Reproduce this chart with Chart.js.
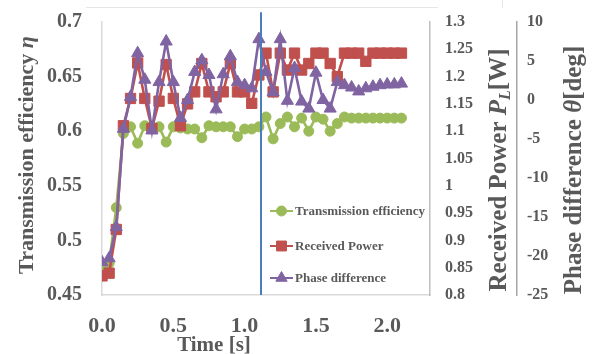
<!DOCTYPE html>
<html>
<head>
<meta charset="utf-8">
<script src="https://cdn.jsdelivr.net/npm/chart.js@4.4.1/dist/chart.umd.min.js"></script>
<style>
  html, body { margin: 0; padding: 0; background: #fff; }
  #wrap { position: relative; width: 592px; height: 354px; }
</style>
</head>
<body>
<div id="wrap"><canvas id="chart"></canvas></div>
<script>
// sample times (s)
const timeValues = [0, 0.05, 0.1, 0.15, 0.2, 0.25, 0.3, 0.35, 0.4, 0.45, 0.5,
  0.55, 0.6, 0.65, 0.7, 0.75, 0.8, 0.85, 0.9, 0.95, 1.0,
  1.05, 1.1, 1.15, 1.2, 1.25, 1.3, 1.35, 1.4, 1.45, 1.5,
  1.55, 1.6, 1.65, 1.7, 1.75, 1.8, 1.85, 1.9, 1.95, 2.0, 2.05, 2.1];

// transmission efficiency (left axis)
const efficiency = [0.475, 0.479, 0.53, 0.598, 0.604, 0.589, 0.605, 0.604, 0.604, 0.59, 0.604,
  0.603, 0.602, 0.602, 0.594, 0.605, 0.604, 0.604, 0.604, 0.595, 0.602,
  0.602, 0.604, 0.613, 0.593, 0.607, 0.613, 0.604, 0.612, 0.600, 0.613,
  0.611, 0.600, 0.607, 0.613, 0.612, 0.612, 0.612, 0.612, 0.612, 0.612, 0.612, 0.612];

// received power [W] (first right axis)
const power = [0.835, 0.84, 0.92, 1.11, 1.16, 1.225, 1.16, 1.105, 1.155, 1.222, 1.16,
  1.11, 1.15, 1.172, 1.224, 1.172, 1.163, 1.172, 1.224, 1.172, 1.172,
  1.151, 1.203, 1.243, 1.172, 1.243, 1.212, 1.243, 1.212, 1.224, 1.243,
  1.243, 1.224, 1.2, 1.243, 1.243, 1.243, 1.228, 1.243, 1.243, 1.243, 1.243, 1.243];

// phase difference [deg] (second right axis)
const phase = [-20.8, -20.3, -16.3, -3.7, 0.4, 6.0, 2.6, -3.9, 2.3, 7.5, 2.3,
  -2.3, 0.0, 3.6, 5.1, 3.2, -1.2, 3.3, 5.6, 2.3, 1.9,
  1.5, 7.8, 3.6, 1.0, 7.8, -0.1, 4.1, -0.2, -1.1, 3.5,
  0.0, -1.1, 2.3, 1.9, 1.6, 1.1, 1.5, 1.7, 1.9, 2.0, 2.0, 2.1];

// event marker (vertical line)
const markerTime = [1.115];

// tick values
const xTicks = [0, 0.5, 1.0, 1.5, 2.0];
const effTicks = [0.45, 0.5, 0.55, 0.6, 0.65, 0.7];
const powerTicks = [0.8, 0.85, 0.9, 0.95, 1, 1.05, 1.1, 1.15, 1.2, 1.25, 1.3];
const phaseTicks = [-25, -20, -15, -10, -5, 0, 5, 10];

const seriesNames = ['Transmission efficiency', 'Received Power', 'Phase difference'];
const colors = { eff: '#9BBB59', power: '#C0504D', phase: '#8064A2', marker: '#4A7EBB' };

const SERIF = "'Liberation Serif', 'Times New Roman', serif";
const GRAY = '#595959';

const pts = (ys) => timeValues.map((t, i) => ({ x: t, y: ys[i] }));

function fixTicks(list) {
  return (scale) => { scale.ticks = list.map(v => ({ value: v })); };
}

// fixed box size, no extra padding for overflowing labels
function fitWidth(w) {
  return (s) => { s.width = w; s.paddingTop = 0; s.paddingBottom = 0; };
}

// draw text made of pieces with different styles, centred at (cx, cy)
function drawRich(ctx, parts, cx, cy, rotate, size) {
  ctx.save();
  ctx.translate(cx, cy);
  if (rotate) ctx.rotate(-Math.PI / 2);
  ctx.textBaseline = 'alphabetic';
  ctx.textAlign = 'left';
  let total = 0;
  parts.forEach(p => { ctx.font = p.font; p.w = ctx.measureText(p.text).width; total += p.w; });
  let x = -total / 2;
  const base = size * 0.33;
  parts.forEach(p => {
    ctx.font = p.font;
    ctx.fillStyle = GRAY;
    ctx.fillText(p.text, x, base + (p.dy || 0));
    x += p.w;
  });
  ctx.restore();
}

const extras = {
  id: 'extras',
  afterDraw(chart) {
    const ctx = chart.ctx;
    // faint frame remnants at the top
    ctx.save();
    ctx.strokeStyle = '#e6e6e6';
    ctx.lineWidth = 1;
    ctx.beginPath();
    ctx.moveTo(86, 7.5); ctx.lineTo(438, 7.5);
    ctx.moveTo(502.5, 0); ctx.lineTo(502.5, 8);
    ctx.stroke();
    ctx.restore();

    // axis titles
    const b = (s) => `bold ${s}px ${SERIF}`;
    const bi = (s) => `italic bold ${s}px ${SERIF}`;
    drawRich(ctx, [
      { text: 'Transmission efficiency ', font: b(22) },
      { text: 'η', font: bi(22) }
    ], 26, 155, true, 22);
    drawRich(ctx, [
      { text: 'Received Power ', font: b(25) },
      { text: 'P', font: bi(25) },
      { text: 'L', font: bi(16), dy: 4 },
      { text: '[W]', font: b(25) }
    ], 498, 170, true, 25);
    drawRich(ctx, [
      { text: 'Phase difference ', font: b(25) },
      { text: 'θ', font: bi(25) },
      { text: '[deg]', font: b(25) }
    ], 573, 170, true, 25);
    drawRich(ctx, [{ text: 'Time [s]', font: b(21) }], 214, 344, false, 21);

    // legend inside plot
    const items = [
      { style: 'circle', r: 5, color: colors.eff, y: 211 },
      { style: 'rect', r: 7, color: colors.power, y: 246 },
      { style: 'triangle', r: 6.5, color: colors.phase, y: 278 }
    ];
    ctx.save();
    items.forEach((it, i) => {
      ctx.strokeStyle = it.color;
      ctx.fillStyle = it.color;
      ctx.lineWidth = 2;
      ctx.beginPath();
      ctx.moveTo(270, it.y); ctx.lineTo(293, it.y);
      ctx.stroke();
      ctx.lineWidth = 1;
      Chart.helpers.drawPoint(ctx, { pointStyle: it.style, radius: it.r, rotation: 0, borderWidth: 1 }, 281.5, it.y);
      ctx.font = `bold 13px ${SERIF}`;
      ctx.fillStyle = GRAY;
      ctx.textBaseline = 'middle';
      ctx.textAlign = 'left';
      ctx.fillText(seriesNames[i], 295, it.y + 0.5);
    });
    ctx.restore();
  }
};

const tickFont = (s) => ({ family: SERIF, size: s, weight: 'bold' });

new Chart(document.getElementById('chart'), {
  type: 'line',
  data: {
    datasets: [
      {
        label: 'marker',
        data: [{ x: markerTime[0], y: 0.45 }, { x: markerTime[0], y: 0.709 }],
        yAxisID: 'y',
        borderColor: colors.marker,
        borderWidth: 2,
        pointRadius: 0,
        clip: false,
        order: 0
      },
      {
        label: seriesNames[2],
        data: pts(phase),
        yAxisID: 'y2',
        borderColor: colors.phase,
        backgroundColor: colors.phase,
        borderWidth: 2.6,
        pointStyle: 'triangle',
        pointRadius: 7,
        pointBorderWidth: 1,
        order: 1
      },
      {
        label: seriesNames[1],
        data: pts(power),
        yAxisID: 'y1',
        borderColor: colors.power,
        backgroundColor: colors.power,
        borderWidth: 2.6,
        pointStyle: 'rect',
        pointRadius: 7.3,
        pointBorderWidth: 1,
        order: 2
      },
      {
        label: seriesNames[0],
        data: pts(efficiency),
        yAxisID: 'y',
        borderColor: colors.eff,
        backgroundColor: colors.eff,
        borderWidth: 2.6,
        pointStyle: 'circle',
        pointRadius: 5,
        pointBorderWidth: 1,
        order: 3
      }
    ]
  },
  options: {
    responsive: true,
    maintainAspectRatio: false,
    animation: false,
    layout: { padding: { top: 22, left: 0, right: 0, bottom: 0 } },
    plugins: { legend: { display: false }, tooltip: { enabled: false } },
    elements: { line: { tension: 0 } },
    scales: {
      x: {
        type: 'linear',
        position: 'bottom',
        min: 0,
        max: 2.3,
        afterBuildTicks: fixTicks(xTicks),
        afterFit: (s) => { s.height = 59; s.paddingLeft = 0; s.paddingRight = 0; },
        grid: { display: false, drawTicks: false, tickLength: 0 },
        border: { display: true, color: '#d9d9d9', width: 1.5 },
        ticks: { color: GRAY, font: tickFont(22), padding: 18, callback: (v) => Number(v).toFixed(1) }
      },
      y: {
        position: 'left',
        min: 0.45,
        max: 0.7,
        afterBuildTicks: fixTicks(effTicks),
        afterFit: fitWidth(102),
        grid: { display: false, drawTicks: false, tickLength: 0 },
        border: { display: true, color: '#d9d9d9', width: 1.5 },
        ticks: { color: GRAY, font: tickFont(20), padding: 20, callback: (v) => String(+Number(v).toFixed(2)) }
      },
      y1: {
        position: 'right',
        min: 0.8,
        max: 1.3,
        afterBuildTicks: fixTicks(powerTicks),
        afterFit: fitWidth(87),
        grid: { display: false, drawTicks: false, tickLength: 0 },
        border: { display: true, color: '#bfbfbf', width: 1.5 },
        ticks: { color: GRAY, font: tickFont(16), padding: 15, callback: (v) => String(+Number(v).toFixed(2)) }
      },
      y2: {
        position: 'right',
        min: -25,
        max: 10,
        afterBuildTicks: fixTicks(phaseTicks),
        afterFit: fitWidth(75),
        grid: { display: false, drawTicks: false, tickLength: 0 },
        border: { display: true, color: '#a6a6a6', width: 1.5 },
        ticks: { color: GRAY, font: tickFont(16), padding: 10, callback: (v) => String(v) }
      }
    }
  },
  plugins: [extras]
});
</script>
</body>
</html>
